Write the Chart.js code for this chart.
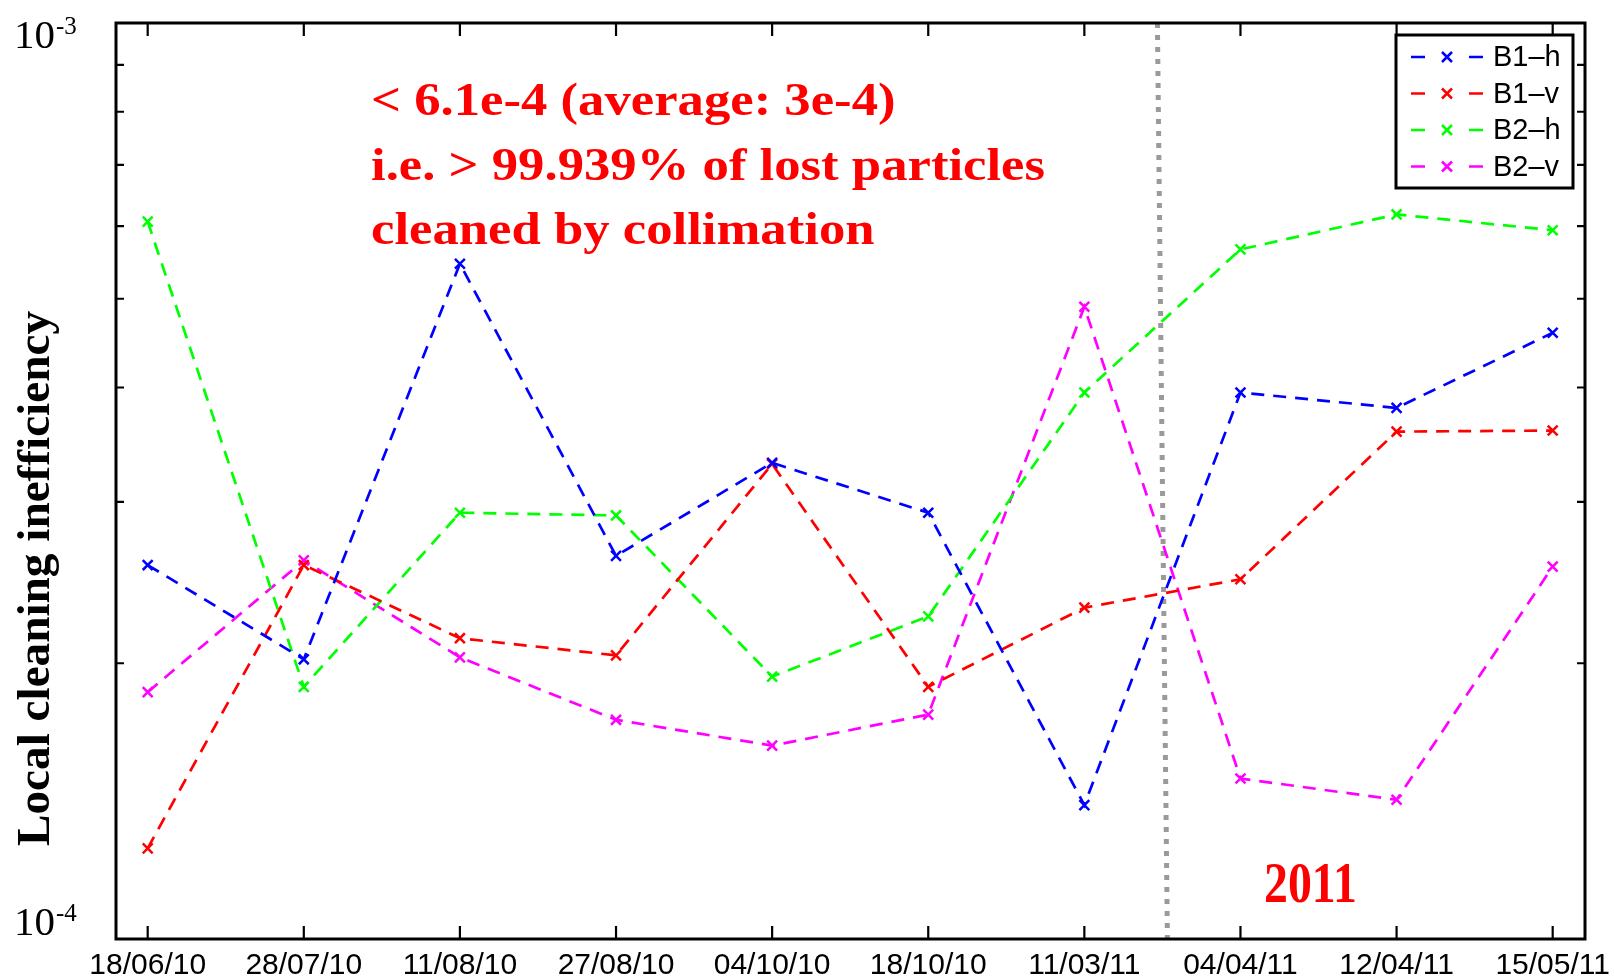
<!DOCTYPE html>
<html>
<head>
<meta charset="utf-8">
<script src="https://cdn.jsdelivr.net/npm/chart.js@4.4.1/dist/chart.umd.min.js"></script>
<style>html,body{margin:0;padding:0;background:#fff}canvas{display:block}</style>
</head>
<body>
<canvas id="c" width="1614" height="979"></canvas>
<script>
// ---- data ----
const dates = ['18/06/10','28/07/10','11/08/10','27/08/10','04/10/10','18/10/10','11/03/11','04/04/11','12/04/11','15/05/11'];
const b1h = [2.56e-4, 2.02e-4, 5.46e-4, 2.62e-4, 3.31e-4, 2.92e-4, 1.40e-4, 3.95e-4, 3.80e-4, 4.59e-4];
const b1v = [1.256e-4, 2.56e-4, 2.13e-4, 2.04e-4, 3.30e-4, 1.885e-4, 2.30e-4, 2.47e-4, 3.58e-4, 3.59e-4];
const b2h = [6.07e-4, 1.885e-4, 2.92e-4, 2.90e-4, 1.934e-4, 2.25e-4, 3.95e-4, 5.66e-4, 6.18e-4, 5.94e-4];
const b2v = [1.86e-4, 2.59e-4, 2.03e-4, 1.735e-4, 1.626e-4, 1.758e-4, 4.90e-4, 1.497e-4, 1.419e-4, 2.55e-4];
const seriesNames = ['B1\u2013h', 'B1\u2013v', 'B2\u2013h', 'B2\u2013v'];
const seriesColors = ['#0000ff', '#ff0000', '#00ff00', '#ff00ff'];
const yMinorTicks = [2e-4, 3e-4, 4e-4, 5e-4, 6e-4, 7e-4, 8e-4, 9e-4];
const yMajorValues = [1e-4, 1e-3];
const yMajorExps = ['-4', '-3'];
const yMin = 1e-4, yMax = 1e-3;
const dividerX = [6.468, 6.532];
const yTitle = 'Local cleaning inefficiency';
const annotationLines = ['< 6.1e-4 (average: 3e-4)', 'i.e. > 99.939% of lost particles', 'cleaned by collimation'];
const yearLabel = '2011';

// ---- datasets ----
const series = [b1h, b1v, b2h, b2v];
const datasets = series.map((s, k) => ({
  label: seriesNames[k],
  data: s.map((v, i) => ({x: i, y: v})),
  borderColor: seriesColors[k],
  backgroundColor: seriesColors[k],
  borderWidth: 2.7,
  borderDash: [13, 9],
  pointStyle: 'crossRot',
  pointRadius: 7,
  pointBorderWidth: 2.5,
  pointHoverRadius: 7,
  tension: 0,
  fill: false
}));
datasets.push({
  label: 'divider',
  data: [{x: dividerX[0], y: yMax}, {x: dividerX[1], y: yMin}],
  borderColor: '#9a9a9a',
  borderWidth: 5,
  borderDash: [5, 7],
  pointRadius: 0,
  fill: false,
  clip: false
});

function stretchText(ctx, text, x, y, targetW, sy) {
  const w = ctx.measureText(text).width;
  ctx.save();
  ctx.translate(x, y);
  ctx.scale(targetW / w, sy || 1);
  ctx.fillText(text, 0, 0);
  ctx.restore();
}

const deco = {
  id: 'deco',
  afterDraw(chart) {
    const {ctx, chartArea: a, scales: {x, y}} = chart;
    ctx.save();
    // tick marks (inward)
    ctx.strokeStyle = '#000';
    ctx.lineWidth = 2.2;
    ctx.beginPath();
    dates.forEach((d, i) => {
      const px = x.getPixelForValue(i);
      ctx.moveTo(px, a.bottom); ctx.lineTo(px, a.bottom - 13);
      ctx.moveTo(px, a.top); ctx.lineTo(px, a.top + 13);
    });
    yMinorTicks.forEach(v => {
      const py = y.getPixelForValue(v);
      ctx.moveTo(a.left, py); ctx.lineTo(a.left + 8, py);
      ctx.moveTo(a.right, py); ctx.lineTo(a.right - 8, py);
    });
    ctx.stroke();
    // frame
    ctx.lineWidth = 3;
    ctx.strokeRect(a.left, a.top, a.right - a.left, a.bottom - a.top);

    // y decade labels 10^-n
    ctx.fillStyle = '#000';
    ctx.textAlign = 'left';
    ctx.textBaseline = 'alphabetic';
    yMajorValues.forEach((v, k) => {
      const py = y.getPixelForValue(v);
      const base = (v === yMax) ? py + 25 : py - 4;
      ctx.font = '41px "Liberation Serif", "Times New Roman", serif';
      ctx.fillText('10', 14, base);
      const w = ctx.measureText('10').width;
      ctx.font = '25px "Liberation Serif", "Times New Roman", serif';
      ctx.fillText(yMajorExps[k], 14 + w + 1, base - 14);
    });

    // y title (rotated)
    ctx.save();
    ctx.font = 'bold 47px "Liberation Serif", "Times New Roman", serif';
    ctx.translate(49, 846);
    ctx.rotate(-Math.PI / 2);
    ctx.textAlign = 'left';
    ctx.textBaseline = 'alphabetic';
    stretchText(ctx, yTitle, 0, 0, 535);
    ctx.restore();

    // red annotation
    ctx.fillStyle = '#ff0000';
    ctx.font = 'bold 47px "Liberation Serif", "Times New Roman", serif';
    ctx.textAlign = 'left';
    const ratio = 674 / ctx.measureText(annotationLines[1]).width;
    const bases = [115, 180, 244];
    annotationLines.forEach((t, i) => {
      const w = ctx.measureText(t).width;
      stretchText(ctx, t, 371, bases[i], w * ratio);
    });

    // 2011
    ctx.font = 'bold 56px "Liberation Serif", "Times New Roman", serif';
    stretchText(ctx, yearLabel, 1264, 902, 93);

    // legend
    const lx = 1396, ly = 35, lw = 177, lh = 153;
    ctx.fillStyle = '#fff';
    ctx.fillRect(lx, ly, lw, lh);
    ctx.strokeStyle = '#000';
    ctx.lineWidth = 3;
    ctx.strokeRect(lx, ly, lw, lh);
    const rows = [57, 93.5, 130, 166.5];
    seriesNames.forEach((n, k) => {
      const ry = rows[k];
      ctx.strokeStyle = seriesColors[k];
      ctx.lineWidth = 2.5;
      ctx.beginPath();
      ctx.moveTo(1411, ry); ctx.lineTo(1425, ry);
      ctx.moveTo(1469, ry); ctx.lineTo(1483, ry);
      ctx.moveTo(1442, ry - 5); ctx.lineTo(1452, ry + 5);
      ctx.moveTo(1442, ry + 5); ctx.lineTo(1452, ry - 5);
      ctx.stroke();
      ctx.fillStyle = '#000';
      ctx.font = '29px "Liberation Sans", Arial, sans-serif';
      ctx.textBaseline = 'middle';
      ctx.fillText(n, 1493, ry + 1);
    });
    ctx.restore();
  }
};

new Chart(document.getElementById('c'), {
  type: 'line',
  data: {datasets},
  options: {
    responsive: false,
    animation: false,
    devicePixelRatio: 1,
    layout: {padding: {top: 23, right: 29, left: 0, bottom: 0}},
    plugins: {legend: {display: false}, tooltip: {enabled: false}},
    scales: {
      x: {
        type: 'linear',
        min: -0.203,
        max: 9.207,
        afterBuildTicks: s => { s.ticks = dates.map((_, i) => ({value: i})); },
        afterFit: s => { s.height = 40; s.paddingLeft = 0; s.paddingRight = 0; },
        grid: {display: false, drawTicks: false},
        border: {display: false},
        ticks: {
          autoSkip: false,
          maxRotation: 0,
          minRotation: 0,
          padding: 9,
          color: '#000',
          font: {family: '"Liberation Sans", Arial, sans-serif', size: 30},
          callback: v => dates[v]
        }
      },
      y: {
        type: 'logarithmic',
        min: yMin,
        max: yMax,
        afterFit: s => { s.width = 116; s.paddingTop = 0; s.paddingBottom = 0; },
        grid: {display: false},
        border: {display: false},
        ticks: {display: false}
      }
    }
  },
  plugins: [deco]
});
</script>
</body>
</html>
